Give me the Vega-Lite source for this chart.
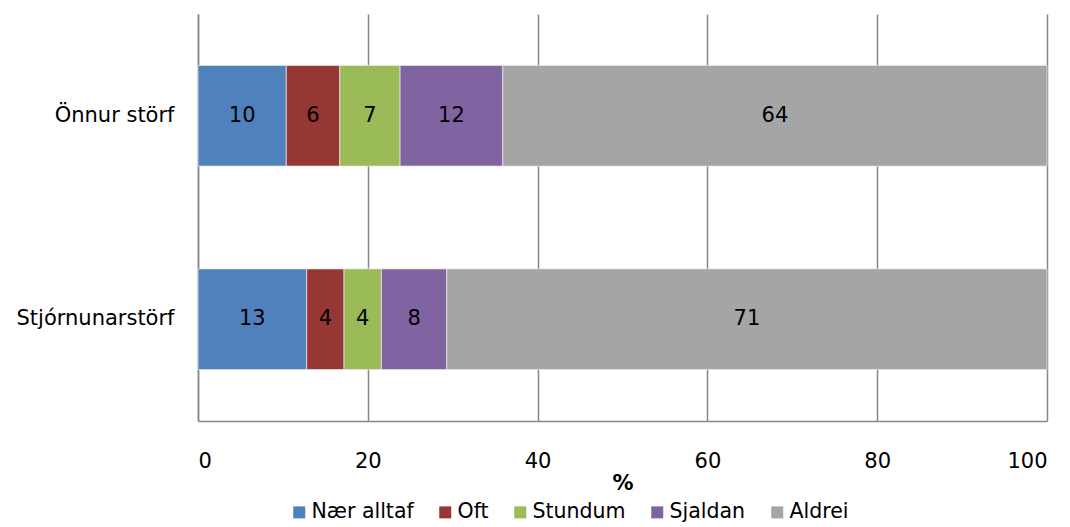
{
  "$schema": "https://vega.github.io/schema/vega-lite/v6.json",
  "width": 849,
  "height": 407,
  "autosize": {"type": "none"},
  "padding": {"left": 198, "top": 14, "right": 23, "bottom": 106},
  "background": "white",
  "config": {
    "font": "DejaVu Sans",
    "view": {"stroke": null}
  },
  "data": {
    "values": [
      {"cat": "Önnur störf", "series": "Nær alltaf", "o": 1, "value": 10.4},
      {"cat": "Önnur störf", "series": "Oft", "o": 2, "value": 6.3},
      {"cat": "Önnur störf", "series": "Stundum", "o": 3, "value": 7.1},
      {"cat": "Önnur störf", "series": "Sjaldan", "o": 4, "value": 12.1},
      {"cat": "Önnur störf", "series": "Aldrei", "o": 5, "value": 64.1},
      {"cat": "Stjórnunarstörf", "series": "Nær alltaf", "o": 1, "value": 12.8},
      {"cat": "Stjórnunarstörf", "series": "Oft", "o": 2, "value": 4.4},
      {"cat": "Stjórnunarstörf", "series": "Stundum", "o": 3, "value": 4.4},
      {"cat": "Stjórnunarstörf", "series": "Sjaldan", "o": 4, "value": 7.7},
      {"cat": "Stjórnunarstörf", "series": "Aldrei", "o": 5, "value": 70.7}
    ]
  },
  "encoding": {
    "y": {
      "field": "cat",
      "type": "nominal",
      "sort": ["Önnur störf", "Stjórnunarstörf"],
      "scale": {"paddingInner": 0.505, "paddingOuter": 0.2525},
      "axis": {
        "title": null,
        "ticks": false,
        "domain": true,
        "domainColor": "#888888",
        "domainWidth": 1.5,
        "labelFontSize": 21,
        "labelColor": "#000000",
        "labelPadding": 24
      }
    },
    "x": {
      "field": "value",
      "type": "quantitative",
      "stack": "zero",
      "scale": {"domain": [0, 100], "nice": false},
      "axis": {
        "title": "%",
        "titleFontSize": 21,
        "titleFontWeight": "bold",
        "titleColor": "#000000",
        "titlePadding": 1,
        "values": [0, 20, 40, 60, 80, 100],
        "ticks": false,
        "grid": true,
        "gridColor": "#888888",
        "gridWidth": 1.5,
        "domainColor": "#888888",
        "domainWidth": 1.5,
        "labelFontSize": 21,
        "labelColor": "#000000",
        "labelPadding": 29
      }
    },
    "order": {"field": "o", "type": "quantitative"}
  },
  "layer": [
    {
      "mark": {"type": "bar", "stroke": "#e8e8e8", "strokeWidth": 0.75},
      "encoding": {
        "color": {
          "field": "series",
          "type": "nominal",
          "scale": {
            "domain": ["Nær alltaf", "Oft", "Stundum", "Sjaldan", "Aldrei"],
            "range": ["#4F81BD", "#963735", "#9BBB59", "#8064A2", "#A5A5A5"]
          },
          "legend": {
            "title": null,
            "orient": "none",
            "legendX": 91,
            "legendY": 488,
            "direction": "horizontal",
            "symbolType": "square",
            "symbolSize": 144,
            "symbolStrokeWidth": 0,
            "labelFontSize": 20.5,
            "labelColor": "#000000",
            "labelOffset": 2,
            "columnPadding": 21
          }
        }
      }
    },
    {
      "mark": {"type": "text", "fontSize": 21, "color": "#000000", "baseline": "middle", "align": "center"},
      "encoding": {
        "x": {"field": "value", "type": "quantitative", "stack": "zero", "bandPosition": 0.5},
        "text": {"field": "value", "type": "quantitative", "format": ".0f"}
      }
    }
  ]
}
